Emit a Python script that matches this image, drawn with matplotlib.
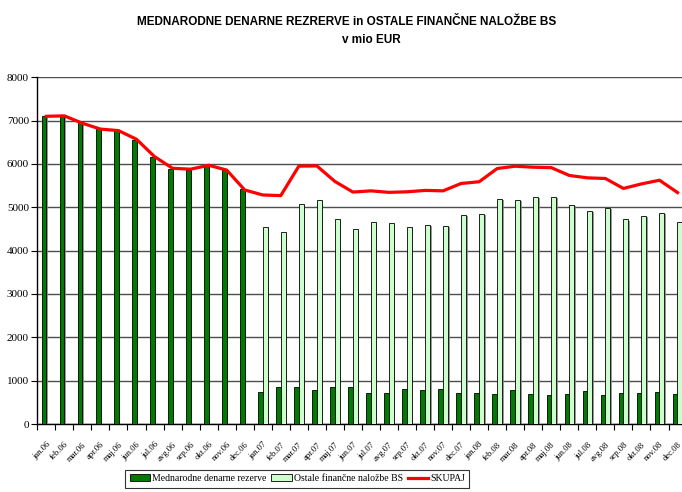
import numpy as np
import matplotlib
matplotlib.use('Agg')
import matplotlib.pyplot as plt
import matplotlib.patheffects as pe
from matplotlib.lines import Line2D
from matplotlib.patches import Patch

# months jan.06 .. dec.08
mesci = ['jan', 'feb', 'mar', 'apr', 'maj', 'jun',
         'jul', 'avg', 'sep', 'okt', 'nov', 'dec']
leta = ['06', '07', '08']
labels = [m + '.' + l for l in leta for m in mesci]

# mio EUR
mednarodne = [7100, 7100, 6940, 6805, 6760, 6560, 6160, 5890, 5870, 5960, 5850, 5420,
              740, 850, 850, 785, 860, 860, 715, 715, 808, 785, 800, 723,
              723, 685, 777, 685, 670, 685, 770, 670, 708, 715, 746, 685]
ostale = [0, 0, 0, 0, 0, 0, 0, 0, 0, 0, 0, 0,
          4540, 4420, 5085, 5170, 4737, 4490, 4652, 4629, 4544, 4590, 4575, 4820,
          4850, 5200, 5170, 5230, 5230, 5050, 4910, 4990, 4720, 4810, 4870, 4650]
skupaj = [7100, 7110, 6940, 6805, 6770, 6570, 6170, 5900, 5880, 5970, 5860, 5400,
          5285, 5270, 5950, 5955, 5597, 5352, 5380, 5345, 5358, 5390, 5380, 5550,
          5590, 5895, 5948, 5925, 5915, 5735, 5680, 5665, 5435, 5540, 5625, 5340]

serif = 'Liberation Serif'
dark = '#007a00'
light = '#ccffcc'

fig = plt.figure(figsize=(6.82, 4.92), dpi=100)
ax = fig.add_axes([0.0547, 0.1382, 0.952, 0.7047])

ind = np.arange(len(labels))
width = 0.27
shadow = [pe.SimplePatchShadow(offset=(1.2, -0.8), shadow_rgbFace='#808080', alpha=0.8), pe.Normal()]

b1 = ax.bar(ind - 0.13, mednarodne, width, color=dark, edgecolor='black', linewidth=0.6, zorder=3)
b2 = ax.bar(ind + 0.13, ostale, width, color=light, edgecolor='black', linewidth=0.6, zorder=3)
for r in list(b1) + list(b2):
    r.set_path_effects(shadow)
ax.plot(ind, skupaj, color='red', linewidth=2.3, zorder=4, solid_joinstyle='round')

ax.set_xlim(-0.5, len(labels) - 0.5)
ax.set_ylim(0, 8000)
ax.set_yticks(np.arange(0, 8001, 1000))
ax.yaxis.grid(True, color='#4d4d4d', linewidth=1.0, zorder=0)
ax.set_axisbelow(True)

for s in ['top', 'right']:
    ax.spines[s].set_visible(False)
ax.spines['left'].set_linewidth(1.0)
ax.spines['bottom'].set_linewidth(1.0)

# ticks between categories, labels at centres
ax.set_xticks(np.arange(-0.5, len(labels), 1.0))
ax.set_xticklabels([])
ax.set_xticks(ind, minor=True)
ax.set_xticklabels(labels, minor=True, rotation=45, ha='right', rotation_mode='anchor',
                   fontsize=6.2, family=serif)
ax.tick_params(axis='x', which='minor', length=0, pad=12)
ax.tick_params(axis='x', which='major', length=4, direction='out')
ax.tick_params(axis='y', length=4, direction='out', pad=2)
for t in ax.get_yticklabels():
    t.set_fontsize(8)
    t.set_family(serif)

fig.text(0.508, 0.955, 'MEDNARODNE DENARNE REZRERVE in OSTALE FINANČNE NALOŽBE BS',
         ha='center', va='center', fontsize=8.5, fontweight='bold', family='Liberation Sans')
fig.text(0.545, 0.918, 'v mio EUR', ha='center', va='center',
         fontsize=8.5, fontweight='bold', family='Liberation Sans')

handles = [Patch(facecolor=dark, edgecolor='black', linewidth=0.6),
           Patch(facecolor=light, edgecolor='black', linewidth=0.6),
           Line2D([], [], color='red', linewidth=2.3)]
names = ['Mednarodne denarne rezerve', 'Ostale finančne naložbe BS', 'SKUPAJ']
leg = fig.legend(handles, names, loc='center', bbox_to_anchor=(0.436, 0.027), ncol=3,
                 prop={'family': serif, 'size': 7.0}, frameon=True, fancybox=False,
                 handlelength=2.1, handleheight=0.75, handletextpad=0.2, columnspacing=0.5,
                 borderpad=0.45, borderaxespad=0)
leg.get_frame().set_edgecolor('black')
leg.get_frame().set_linewidth(0.8)

plt.savefig('out.png', dpi=100)
